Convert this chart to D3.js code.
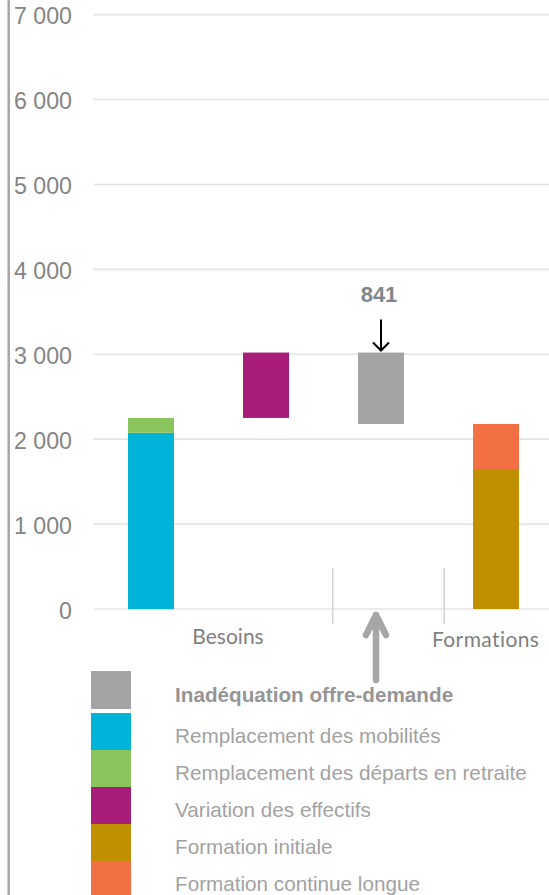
<!DOCTYPE html>
<html><head><meta charset="utf-8">
<script src="https://cdn.jsdelivr.net/npm/d3@7"></script>
<style>html,body{margin:0;padding:0;background:#fff;}svg{display:block;}</style>
</head><body>
<svg id="chart" width="549" height="895"></svg>
<script>
// ---- data ----
const seriesNames = ["Inadéquation offre-demande","Remplacement des mobilités","Remplacement des départs en retraite","Variation des effectifs","Formation initiale","Formation continue longue"];
const seriesValues = [841, 2075, 175, 770, 1649, 530];
const seriesColors = ["#a4a4a4","#00b4d7","#89c45c","#a91d7a","#c19000","#f27043"];
// columns of the waterfall: series indices stacked in each column
const columns = [[1,2],[3],[0],[4,5]];
const groupLabels = ["Besoins","Formations"];
const yTicks = [0,1000,2000,3000,4000,5000,6000,7000];
const gapLabel = "841";

// ---- layout ----
const W = 549, H = 895;
const svg = d3.select("#chart");
const y = d3.scaleLinear().domain([0,7000]).range([609,14.6]);
const x = d3.scaleBand().domain(d3.range(columns.length)).range([93.5,553.5]).paddingInner(0.6).paddingOuter(0.3);
const bw = x.bandwidth();
const fmt = d3.formatLocale({decimal:",",thousands:" ",grouping:[3],currency:["","€"]}).format(",d");

// left vertical rule
svg.append("line").attr("x1",8.7).attr("x2",8.7).attr("y1",0).attr("y2",H)
  .attr("stroke","#a6a6a6").attr("stroke-width",2.5);

// gridlines + tick labels
const yAxis = d3.axisLeft(y).tickValues(yTicks).tickFormat(fmt).tickSize(0).tickPadding(0);
const gA = svg.append("g").attr("transform","translate(72,0)").call(yAxis);
gA.select(".domain").remove();
gA.selectAll("text").attr("font-family","'Liberation Sans', Arial, sans-serif").attr("font-size",23.2)
  .attr("fill","#858585").attr("dy","0.4em").attr("dx",0);
svg.append("g").selectAll("line").data(yTicks).join("line")
  .attr("x1",93.5).attr("x2",W).attr("y1",d=>y(d)).attr("y2",d=>y(d))
  .attr("stroke","#e4e4e4").attr("stroke-width",1.6);

// compute waterfall stacks
const colTotal = c => d3.sum(columns[c], i => seriesValues[i]);
const bases = [0, colTotal(0), colTotal(3), 0];
const rects = [];
columns.forEach((col, c) => {
  let acc = bases[c];
  col.forEach(i => { rects.push({c, i, y0: acc, y1: acc + seriesValues[i]}); acc += seriesValues[i]; });
});
svg.append("g").selectAll("rect").data(rects).join("rect")
  .attr("x", d => x(d.c)).attr("width", bw)
  .attr("y", d => y(d.y1)).attr("height", d => y(d.y0) - y(d.y1))
  .attr("fill", d => seriesColors[d.i]);

// gap annotation
const gapTop = y(bases[2] + seriesValues[0]);
const gx = x(2) + bw/2;
svg.append("text").attr("x", gx - 2).attr("y", gapTop - 51).attr("text-anchor","middle")
  .attr("font-family","'Liberation Sans', Arial, sans-serif").attr("font-weight","bold").attr("font-size",22)
  .attr("fill","#7f868b").text(gapLabel);
svg.append("path").attr("d", `M${gx},${gapTop-33}V${gapTop-2}M${gx-8},${gapTop-10}L${gx},${gapTop-2}L${gx+8},${gapTop-10}`)
  .attr("fill","none").attr("stroke","#000").attr("stroke-width",2);

// category axis separators and group labels
const pos = d3.scaleLinear().domain([0,3]).range([x(0)+bw/2, x(3)+bw/2]);
[1.58, 2.55].forEach(p => svg.append("line").attr("x1",pos(p)).attr("x2",pos(p)).attr("y1",568).attr("y2",624)
  .attr("stroke","#d4d4d4").attr("stroke-width",1.5));
[[groupLabels[0],0.67,644,0],[groupLabels[1],2.91,647,0.4]].forEach(([t,p,yy,ls]) =>
  svg.append("text").attr("x",pos(p)).attr("y",yy).attr("text-anchor","middle")
    .attr("font-family","Lato, 'Open Sans', sans-serif").attr("font-size",21)
    .attr("letter-spacing",ls)
    .attr("fill","#7f7f7f").text(t));

// up arrow
const ux = gx - 5;
svg.append("path").attr("d",`M${ux},${y(0)+6}V${680}M${ux-10},${y(0)+26}L${ux},${y(0)+6}L${ux+10},${y(0)+26}`)
  .attr("fill","none").attr("stroke","#a6a6a6").attr("stroke-width",6.5).attr("stroke-linecap","round").attr("stroke-linejoin","round");

// legend
const legRows = seriesNames.map((n,i) => ({n, i, top: i===0 ? 671 : 713 + 37*(i-1), h: i===0 ? 38 : 37}));
const lg = svg.append("g");
lg.selectAll("rect").data(legRows).join("rect")
  .attr("x",91).attr("width",40).attr("y",d=>d.top).attr("height",d=>d.h).attr("fill",d=>seriesColors[d.i]);
lg.selectAll("text").data(legRows).join("text")
  .attr("x",175).attr("y",d=>d.top + d.h/2 + 11.5)
  .attr("font-family","'Liberation Sans', Arial, sans-serif").attr("font-size",20.7)
  .attr("font-weight",d=>d.i===0?"bold":"normal")
  .attr("fill",d=>d.i===0?"#959595":"#a2a2a2").text(d=>d.n);
</script>
</body></html>
